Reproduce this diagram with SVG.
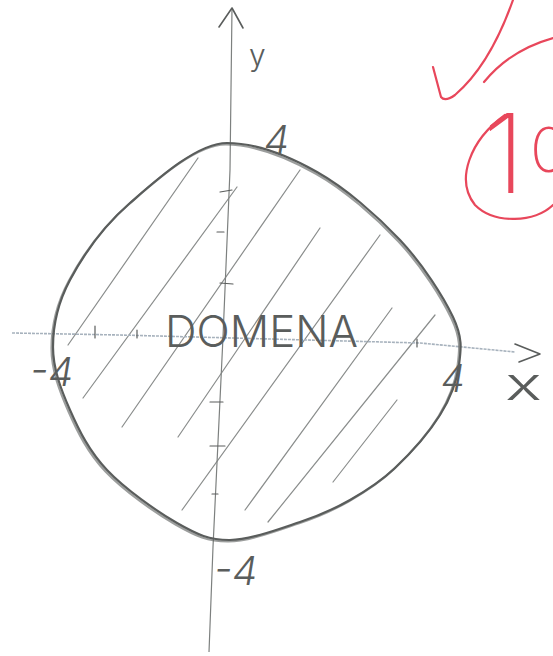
<svg xmlns="http://www.w3.org/2000/svg" width="553" height="656" viewBox="0 0 553 656">
<style>
.pen{fill:none;stroke:#5a5d5c;stroke-linecap:round;stroke-linejoin:round}
.hatch{fill:none;stroke:#8a8d8c;stroke-width:1.2;stroke-linecap:round}
.lbl{font-family:Inter,Lato,"Liberation Sans",sans-serif;font-weight:300;fill:#5a5d5c}
.red{fill:none;stroke:#e8475b;stroke-width:2.2;stroke-linecap:round;stroke-linejoin:round}
.redtxt{font-family:Inter,Lato,"Liberation Sans",sans-serif;font-weight:200;fill:#e8475b}
</style>
<rect width="553" height="656" fill="#ffffff"/>
<g id="hatching">
<line class="hatch" x1="68" y1="345" x2="198" y2="158"/>
<line class="hatch" x1="83" y1="398" x2="237" y2="187"/>
<line class="hatch" x1="122" y1="427" x2="300" y2="170"/>
<line class="hatch" x1="178" y1="437" x2="320" y2="228"/>
<line class="hatch" x1="182" y1="510" x2="380" y2="235"/>
<line class="hatch" x1="245" y1="510" x2="392" y2="308"/>
<line class="hatch" x1="268" y1="522" x2="435" y2="315"/>
<line class="hatch" x1="333" y1="482" x2="397" y2="400"/>
</g>
<g id="axes">
<polyline id="x-axis" points="12,333 120,335 420,343 515,352" fill="none" stroke="#a7b2bd" stroke-width="1.6" stroke-dasharray="3 1"/>
<polyline id="y-axis" points="232,8 230,170 223,337 213,547 209,652" fill="none" stroke="#7d807f" stroke-width="1.2"/>
<polyline class="pen" stroke-width="1.6" points="219,27 232,8 243,28"/>
<polyline class="pen" stroke-width="1.6" points="515,344 540,354 519,362"/>
<g class="pen" stroke-width="1.2">
<line x1="95" y1="326" x2="95" y2="338"/>
<line x1="137" y1="330" x2="137" y2="338"/>
<line x1="417" y1="339" x2="417" y2="347"/>
<line x1="220" y1="192" x2="232" y2="190"/>
<line x1="217" y1="232" x2="224" y2="232"/>
<line x1="220" y1="283" x2="233" y2="284"/>
<line x1="210" y1="402" x2="223" y2="402"/>
<line x1="210" y1="446" x2="225" y2="446"/>
<line x1="212" y1="494" x2="218" y2="494"/>
</g>
</g>
<g id="region">
<path id="outline" class="pen" stroke-width="2.2" d="M227,143 C257,143 288.2,155.8 317,172 C345.8,188.2 377.3,215.8 400,240 C422.7,264.2 443.2,296.2 453,317 C462.8,337.8 461.2,348.7 459,365 C456.8,381.3 450.7,397.8 440,415 C429.3,432.2 410,453.8 395,468 C380,482.2 365.8,491 350,500 C334.2,509 320,515.3 300,522 C280,528.7 250.5,539.8 230,540 C209.5,540.2 197.5,534.7 177,523 C156.5,511.3 124.8,488.8 107,470 C89.2,451.2 79,430.5 70,410 C61,389.5 53,368.7 53,347 C53,325.3 57.2,304 70,280 C82.8,256 103.8,225.8 130,203 C156.2,180.2 197,143 227,143 Z"/>
<use href="#outline" stroke-width="1" opacity="0.6" transform="translate(-1.5,1.5)"/>
</g>
<g id="labels">
<text class="lbl" x="249" y="66" font-size="30">y</text>
<text class="lbl" x="264" y="154" font-size="40" font-style="italic">4</text>
<text class="lbl" x="30" y="386" font-size="40" font-style="italic">-4</text>
<text class="lbl" x="441" y="392" font-size="38" font-style="italic">4</text>
<text class="lbl" x="214" y="585" font-size="40" font-style="italic">-4</text>
<text class="lbl" x="505" y="400" font-size="46" textLength="37" lengthAdjust="spacingAndGlyphs">x</text>
<text class="lbl" x="165" y="347" font-size="44" textLength="193" lengthAdjust="spacingAndGlyphs" fill="#777">DOMENA</text>
</g>
<g id="grade">
<path class="red" d="M433,67 L441,97 Q445,102 455,95 Q490,65 513,0"/>
<path class="red" stroke-width="1.6" d="M484,82 Q510,50 553,38"/>
<path class="red" stroke-width="1.8" d="M505,115 C470,140 455,180 475,205 C495,225 535,222 553,205"/>
<text class="redtxt" x="483" y="193" font-size="110">1<tspan x="530" y="172" font-size="62">0</tspan></text>
</g>
</svg>
